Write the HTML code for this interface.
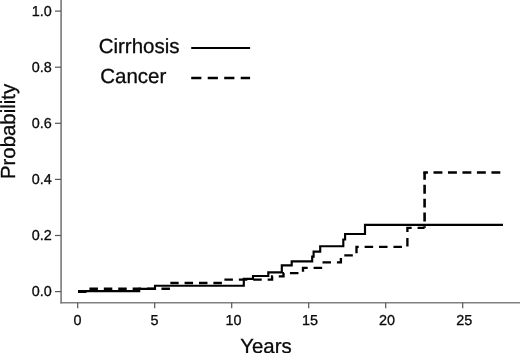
<!DOCTYPE html>
<html>
<head>
<meta charset="utf-8">
<title>Cumulative probability</title>
<style>
html,body{margin:0;padding:0;background:#fff;}
body{width:520px;height:353px;overflow:hidden;}
svg{display:block;will-change:transform;}
text{text-rendering:geometricPrecision;font-family:"Liberation Sans",sans-serif;fill:#0a0a0a;stroke:#0a0a0a;stroke-width:0.3px;}
.tick{font-size:14.4px;}
.big{font-size:20.5px;}
</style>
</head>
<body>
<svg width="520" height="353" viewBox="0 0 520 353">
<rect x="0" y="0" width="520" height="353" fill="#ffffff"/>
<!-- axes -->
<g stroke="#808080" stroke-width="1.7" fill="none">
<line x1="61.1" y1="0" x2="61.1" y2="303.6"/>
<line x1="60.3" y1="302.75" x2="520" y2="302.75"/>
</g>
<!-- ticks -->
<g stroke="#555" stroke-width="1.2" fill="none">
<line x1="55" y1="11.1" x2="61" y2="11.1"/>
<line x1="55" y1="67.2" x2="61" y2="67.2"/>
<line x1="55" y1="123.3" x2="61" y2="123.3"/>
<line x1="55" y1="179.4" x2="61" y2="179.4"/>
<line x1="55" y1="235.5" x2="61" y2="235.5"/>
<line x1="55" y1="291.6" x2="61" y2="291.6"/>
<line x1="77.7" y1="302.75" x2="77.7" y2="308.3"/>
<line x1="154.7" y1="302.75" x2="154.7" y2="308.3"/>
<line x1="231.7" y1="302.75" x2="231.7" y2="308.3"/>
<line x1="308.7" y1="302.75" x2="308.7" y2="308.3"/>
<line x1="385.7" y1="302.75" x2="385.7" y2="308.3"/>
<line x1="462.7" y1="302.75" x2="462.7" y2="308.3"/>
</g>
<!-- y tick labels -->
<g class="tick" text-anchor="end">
<text x="51.85" y="16.45">1.0</text>
<text x="51.85" y="72.38">0.8</text>
<text x="51.85" y="128.31">0.6</text>
<text x="51.85" y="184.24">0.4</text>
<text x="51.85" y="240.17">0.2</text>
<text x="51.85" y="296.10">0.0</text>
</g>
<!-- x tick labels -->
<g class="tick" text-anchor="middle">
<text x="77.5" y="325.3">0</text>
<text x="154.5" y="325.3">5</text>
<text x="233.5" y="325.3">10</text>
<text x="310" y="325.3">15</text>
<text x="387" y="325.3">20</text>
<text x="464.3" y="325.3">25</text>
</g>
<!-- axis titles -->
<text class="big" x="240.3" y="353.0" style="font-size:20.4px">Years</text>
<text class="big" transform="translate(14.8,179.1) rotate(-90)" style="font-size:20.4px">Probability</text>
<!-- legend -->
<text class="big" x="98.7" y="52.8">Cirrhosis</text>
<text class="big" x="100.2" y="83.2">Cancer</text>
<line x1="191.2" y1="48.05" x2="250.1" y2="48.05" stroke="#000" stroke-width="2.05"/>
<line x1="191.2" y1="78.0" x2="250.1" y2="78.0" stroke="#000" stroke-width="2.45" stroke-dasharray="10.2 6.3"/>
<!-- curves -->
<path d="M78,291.7 H89 V288.7 H171.5 V283 H224 V279.6 H272.1 V276.3 H283.5 V273.1 H303 V267.9 H321 V262.4 H340.9 V255.4 H356.5 V246.9 H407.4 V227.8 H424.6" fill="none" stroke="#000" stroke-width="2.35" stroke-dasharray="8.5 5.91"/>
<path d="M424.6,227.8 V172.4" fill="none" stroke="#000" stroke-width="2.6" stroke-dasharray="8.9 4.95" stroke-dashoffset="7.45"/>
<path d="M423.3,172.4 H502" fill="none" stroke="#000" stroke-width="2.5" stroke-dasharray="8.9 5.575" stroke-dashoffset="4.275"/>
<path d="M78,291.1 H139.2 V288.9 H155 V285.7 H243.8 V278.8 H253 V276 H268.3 V272.4 H281.8 V265.3 H291.7 V261.4 H312.2 V256.6 H313.6 V251.6 H320.2 V246.2 H343.3 V239.5 H345.1 V234 H365 V224.8 H503" fill="none" stroke="#000" stroke-width="2.15"/>
</svg>
</body>
</html>
